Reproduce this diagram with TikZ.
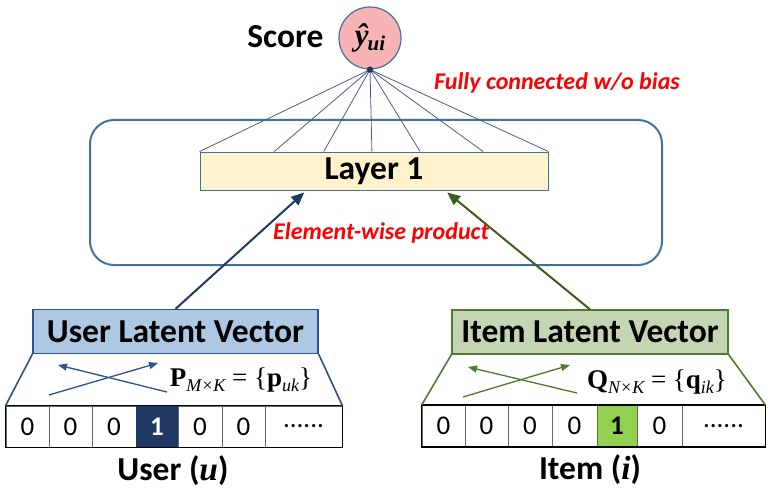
\documentclass[tikz,border=0pt]{standalone}
\usepackage{fontspec}
\setmainfont{Carlito}
\newfontfamily\tnr{Liberation Serif}
\usetikzlibrary{arrows.meta,calc}
\definecolor{frameblue}{HTML}{41719C}
\definecolor{navy}{HTML}{203864}
\definecolor{ublue}{HTML}{2F528F}
\definecolor{ufill}{HTML}{ADC8E3}
\definecolor{ifill}{HTML}{C3D5B2}
\definecolor{igreen}{HTML}{507A30}
\definecolor{darkgreen}{HTML}{3B5E1F}
\definecolor{lgreen}{HTML}{92D050}
\definecolor{layerfill}{HTML}{FFF2CC}
\definecolor{pinkfill}{HTML}{F8B4B4}
\definecolor{fanline}{HTML}{4A5E85}
\definecolor{redtxt}{HTML}{FF0000}
\begin{document}
\begin{tikzpicture}[x=1pt,y=-1pt,
  bigtxt/.style={font=\fontsize{33.5}{33.5}\selectfont\bfseries},
  redlbl/.style={text=redtxt,font=\fontsize{24}{24}\selectfont\bfseries\itshape},
  cell/.style={draw=black!60,line width=0.8pt,minimum height=41,inner sep=0pt,
    font=\fontsize{27}{27}\selectfont},
  latent/.style={line width=1.2pt,minimum height=44,inner sep=0pt,bigtxt},
  crossarr/.style={line width=1.3pt,-{Triangle[length=9pt,width=7pt]}},
  mainarr/.style={line width=2pt,-{Triangle[length=13pt,width=11pt]}},
  fan/.style={draw=fanline,line width=0.8pt}]
\useasboundingbox (0,0) rectangle (775,494);

% container
\node[draw=frameblue,line width=2pt,rounded corners=24pt,minimum width=572,minimum height=145,inner sep=0pt] (cont) at (376,192.5) {};

% layer
\node[draw=frameblue,fill=layerfill,line width=0.9pt,minimum width=348,minimum height=38,inner sep=0pt,bigtxt] (layer) at (374,171) {Layer 1};

% score
\node[draw=frameblue,fill=pinkfill,line width=1.2pt,circle,minimum size=62,inner sep=0pt,
  font=\tnr\fontsize{31}{31}\selectfont\bfseries\itshape] (score) at (370,38)
  {\^{y}\kern-1pt\raisebox{-0.35ex}{\fontsize{21}{21}\selectfont ui}};
\node[bigtxt,anchor=east] (scorelbl) at (327,37) {Score};

% fan lines
\foreach \f in {0,0.214,0.356,0.494,0.632,0.813,1}
  \draw[fan] (score.south) -- ($(layer.north west)!\f!(layer.north east)$);
\fill[navy] (score.south) circle (3.2);

% red labels
\node[redlbl] (fc) at (557,83) {Fully connected w/o bias};
\node[redlbl] (ew) at (381,233) {Element-wise product};

% latent boxes
\node[latent,draw=ublue,fill=ufill,minimum width=285] (ubox) at (175.5,331.5) {User Latent Vector};
\node[latent,draw=igreen,fill=ifill,minimum width=276] (ibox) at (590,332) {Item Latent Vector};

% main arrows
\draw[mainarr,draw=navy,fill=navy] (ubox.north) -- ($(layer.south west)!0.3!(layer.south east)+(0,2)$);
\draw[mainarr,draw=darkgreen,fill=darkgreen] (ibox.north) -- ($(layer.south west)!0.71!(layer.south east)+(0,2)$);

% user one-hot row
\node[cell,minimum width=43] (u1) at (27.5,426.5) {0};
\node[cell,minimum width=43] (u2) at (70.5,426.5) {0};
\node[cell,minimum width=44] (u3) at (114,426.5) {0};
\node[cell,minimum width=42,fill=navy,draw=navy,text=white,font=\fontsize{27}{27}\selectfont\bfseries] (u4) at (157,426.5) {1};
\node[cell,minimum width=44] (u5) at (200,426.5) {0};
\node[cell,minimum width=43] (u6) at (243.5,426.5) {0};
\node[cell,minimum width=77] (u7) at (303.5,426.5) {......};
\draw[black,line width=1.3pt] (u1.north west) rectangle (u7.south east);

% item one-hot row
\node[cell,minimum width=43] (i1) at (443.5,426) {0};
\node[cell,minimum width=43] (i2) at (486.5,426) {0};
\node[cell,minimum width=44] (i3) at (530,426) {0};
\node[cell,minimum width=45] (i4) at (574.5,426) {0};
\node[cell,minimum width=40,fill=lgreen,draw=igreen,font=\fontsize{27}{27}\selectfont\bfseries] (i5) at (617,426) {1};
\node[cell,minimum width=45] (i6) at (659.5,426) {0};
\node[cell,minimum width=83] (i7) at (723.5,426) {......};
\draw[black,line width=1.3pt] (i1.north west) rectangle (i7.south east);

% trapezoid sides
\draw[ublue,line width=1.6pt] (ubox.south west) -- (u1.north west);
\draw[ublue,line width=1.6pt] (ubox.south east) -- (u7.north east);
\draw[igreen,line width=1.6pt] (ibox.south west) -- (i1.north west);
\draw[igreen,line width=1.6pt] (ibox.south east) -- (i7.north east);

% crossing arrows (user)
\coordinate (ua1) at (49,395); \coordinate (ua2) at (158,363);
\coordinate (ub1) at (167,392); \coordinate (ub2) at (58,365);
\draw[crossarr,draw=ublue,fill=ublue] (ua1) -- (ua2);
\draw[crossarr,draw=ublue,fill=ublue] (ub1) -- (ub2);
% crossing arrows (item)
\coordinate (ia1) at (463,397); \coordinate (ia2) at (570,365);
\coordinate (ib1) at (577,393); \coordinate (ib2) at (468,367);
\draw[crossarr,draw=igreen,fill=igreen] (ia1) -- (ia2);
\draw[crossarr,draw=igreen,fill=igreen] (ib1) -- (ib2);

% matrix labels
\node[font=\tnr\fontsize{27}{27}\selectfont] (pm) at (241,380)
  {\textbf{P}\raisebox{-0.4ex}{\fontsize{18}{18}\selectfont\itshape M×K} = \{\textbf{p}\raisebox{-0.4ex}{\fontsize{18}{18}\selectfont\itshape uk}\}};
\node[font=\tnr\fontsize{27}{27}\selectfont] (qm) at (657,382)
  {\textbf{Q}\raisebox{-0.4ex}{\fontsize{18}{18}\selectfont\itshape N×K} = \{\textbf{q}\raisebox{-0.4ex}{\fontsize{18}{18}\selectfont\itshape ik}\}};

% bottom labels
\node[bigtxt] (ulbl) at (173,471) {User ({\tnr\bfseries\itshape u})};
\node[bigtxt] (ilbl) at (590,470) {Item ({\tnr\bfseries\itshape i})};
\end{tikzpicture}
\end{document}
